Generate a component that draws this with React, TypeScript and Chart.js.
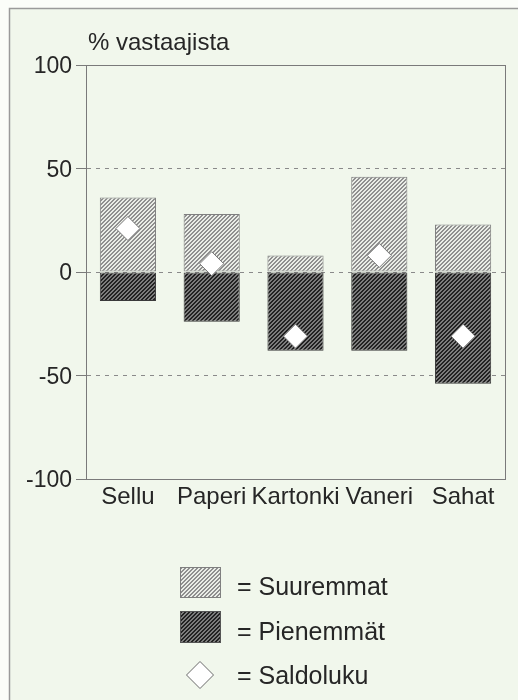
import React, { useEffect, useRef } from 'react';
import { Chart, registerables } from 'chart.js';

Chart.register(...registerables);

const categories = ['Sellu', 'Paperi', 'Kartonki', 'Vaneri', 'Sahat'];
const suuremmat = [36, 28, 8, 46, 23];
const pienemmat = [-14, -24, -38, -38, -54];
const saldoluku = [21, 4, -31, 8, -31];
const yTickValues = [100, 50, 0, -50, -100];
const seriesNames = ['Suuremmat', 'Pienemmät', 'Saldoluku'];
const axisTitle = '% vastaajista';

const FONT = "'Liberation Sans', Arial, Helvetica, sans-serif";
const TEXT = '#262626';

function makePattern(bg: string, stripe: string, stripeWidth: number): CanvasPattern | string {
  const c = document.createElement('canvas');
  c.width = 4;
  c.height = 4;
  const g = c.getContext('2d');
  if (!g) return bg;
  for (let x = 0; x < 4; x++) {
    for (let y = 0; y < 4; y++) {
      g.fillStyle = (x + y) % 4 < stripeWidth ? stripe : bg;
      g.fillRect(x, y, 1, 1);
    }
  }
  const p = g.createPattern(c, 'repeat');
  return p || bg;
}

export default function App() {
  const ref = useRef<HTMLCanvasElement | null>(null);

  useEffect(() => {
    if (!ref.current) return;
    const lightPat = makePattern('#eaede7', '#8f8f8f', 2);
    const darkPat = makePattern('#7c7c7c', '#222222', 2);

    const framePlugin = {
      id: 'framePlugin',
      beforeDraw(chart: any) {
        const ctx = chart.ctx;
        ctx.save();
        ctx.fillStyle = '#fbfdf9';
        ctx.fillRect(0, 0, chart.width, chart.height);
        ctx.fillStyle = '#f1f7ec';
        ctx.fillRect(9, 8, chart.width - 9, chart.height - 8);
        ctx.strokeStyle = '#9a9a9a';
        ctx.lineWidth = 1.5;
        ctx.beginPath();
        ctx.moveTo(9.5, chart.height);
        ctx.lineTo(9.5, 8.5);
        ctx.lineTo(chart.width, 8.5);
        ctx.stroke();
        ctx.restore();
      },
      afterDraw(chart: any) {
        const ctx = chart.ctx;
        const a = chart.chartArea;
        ctx.save();
        ctx.strokeStyle = '#7a7a7a';
        ctx.lineWidth = 1;
        ctx.strokeRect(Math.round(a.left) + 0.5, Math.round(a.top) + 0.5, Math.round(a.right - a.left), Math.round(a.bottom - a.top));
        // axis title
        ctx.fillStyle = TEXT;
        ctx.font = `24px ${FONT}`;
        ctx.textAlign = 'left';
        ctx.textBaseline = 'alphabetic';
        ctx.fillText(axisTitle, 88, 50);
        // legend
        const bx = 180;
        const boxes = [
          { y: 567, h: 31, fill: lightPat, stroke: '#808080' },
          { y: 611, h: 32, fill: darkPat, stroke: '#555' },
        ];
        boxes.forEach((b) => {
          ctx.fillStyle = b.fill;
          ctx.fillRect(bx, b.y, 41, b.h);
          ctx.strokeStyle = b.stroke;
          ctx.lineWidth = 1;
          ctx.strokeRect(bx + 0.5, b.y + 0.5, 40, b.h - 1);
        });
        const cx = 200, cy = 675, r = 13.5;
        ctx.beginPath();
        ctx.moveTo(cx, cy - r);
        ctx.lineTo(cx + r, cy);
        ctx.lineTo(cx, cy + r);
        ctx.lineTo(cx - r, cy);
        ctx.closePath();
        ctx.fillStyle = '#ffffff';
        ctx.fill();
        ctx.strokeStyle = '#6a6a6a';
        ctx.lineWidth = 1;
        ctx.stroke();
        ctx.fillStyle = TEXT;
        ctx.font = `25px ${FONT}`;
        const baselines = [595, 640, 684];
        seriesNames.forEach((n, i) => {
          ctx.fillText('= ' + n, 237, baselines[i]);
        });
        ctx.restore();
      },
    };

    const chart = new Chart(ref.current, {
      type: 'bar',
      data: {
        labels: categories,
        datasets: [
          {
            type: 'line',
            label: seriesNames[2],
            data: saldoluku,
            stack: 'saldo',
            order: 0,
            showLine: false,
            pointStyle: 'rectRot',
            pointRadius: 12,
            pointHoverRadius: 12,
            pointBackgroundColor: '#ffffff',
            pointBorderColor: '#7a7a7a',
            pointBorderWidth: 1,
          } as any,
          {
            type: 'bar',
            label: seriesNames[0],
            data: suuremmat,
            stack: 'bars',
            order: 1,
            backgroundColor: lightPat as any,
            borderColor: '#7f7f7f',
            borderWidth: 1,
            borderSkipped: false,
            barPercentage: 0.67,
            categoryPercentage: 1,
          },
          {
            type: 'bar',
            label: seriesNames[1],
            data: pienemmat,
            stack: 'bars',
            order: 1,
            backgroundColor: darkPat as any,
            borderColor: '#3a3a3a',
            borderWidth: 1,
            borderSkipped: false,
            barPercentage: 0.67,
            categoryPercentage: 1,
          },
        ],
      },
      options: {
        responsive: false,
        animation: false,
        layout: { padding: { top: 65, right: 12, left: 0, bottom: 0 } },
        plugins: {
          legend: { display: false },
          tooltip: { enabled: false },
          title: { display: false },
        },
        scales: {
          x: {
            stacked: true,
            grid: { display: false, drawTicks: false },
            border: { display: true, color: '#7a7a7a' },
            ticks: {
              autoSkip: false,
              maxRotation: 0,
              minRotation: 0,
              padding: 4,
              color: TEXT,
              font: { family: FONT, size: 24 },
            },
            afterFit: (scale: any) => {
              scale.height = 221;
            },
          },
          y: {
            stacked: true,
            min: -100,
            max: 100,
            afterBuildTicks: (scale: any) => {
              scale.ticks = yTickValues.map((v) => ({ value: v }));
            },
            ticks: {
              padding: 4,
              labelOffset: 2,
              color: TEXT,
              font: { family: FONT, size: 23 },
              callback: (v: any) => String(v),
            },
            grid: {
              color: (c: any) => (c.tick && Math.abs(c.tick.value) === 50) || (c.tick && c.tick.value === 0) ? '#8a8a8a' : 'rgba(0,0,0,0)',
              tickColor: '#7a7a7a',
              tickLength: 10,
              lineWidth: 1,
            },
            border: { display: true, color: '#7a7a7a', dash: [4, 5] },
            afterFit: (scale: any) => {
              scale.width = 86;
            },
          },
        },
      },
      plugins: [framePlugin],
    });
    return () => chart.destroy();
  }, []);

  return (
    <div style={{ position: 'absolute', left: 0, top: 0, width: 518, height: 700 }}>
      <canvas ref={ref} width={518} height={700} style={{ width: 518, height: 700, display: 'block' }} />
    </div>
  );
}
